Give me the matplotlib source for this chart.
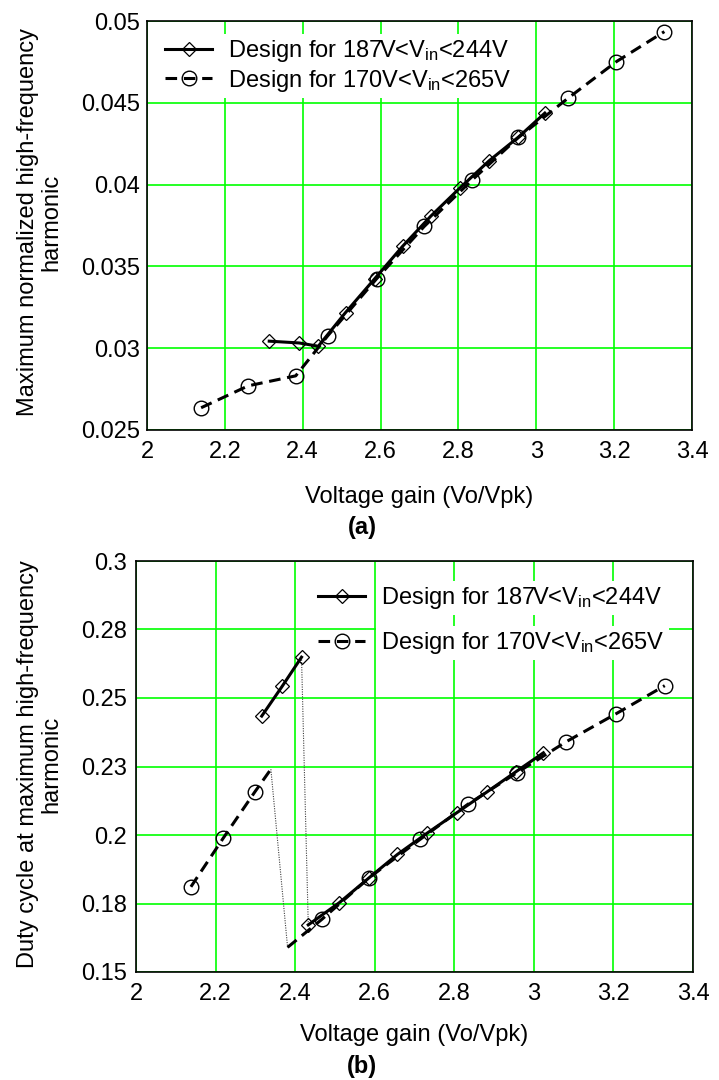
import numpy as np
import matplotlib
matplotlib.use('Agg')
import matplotlib.pyplot as plt

plt.rcParams['font.family'] = 'Liberation Sans'
plt.rcParams['mathtext.fontset'] = 'custom'
plt.rcParams['mathtext.rm'] = 'Liberation Sans'
plt.rcParams['mathtext.it'] = 'Liberation Sans:italic'

# Datos (a): armonico maximo normalizado
xa_d = [2.314, 2.391, 2.440, 2.510, 2.585, 2.657, 2.729, 2.804, 2.879, 2.954, 3.022]
ya_d = [0.03043, 0.03032, 0.03012, 0.03218, 0.03425, 0.03624, 0.03807, 0.03980, 0.04146, 0.04290, 0.04437]
xa_c = [2.139, 2.260, 2.382, 2.464, 2.590, 2.712, 2.836, 2.954, 3.082, 3.206, 3.329]
ya_c = [0.02636, 0.02770, 0.02831, 0.03075, 0.03425, 0.03744, 0.04030, 0.04288, 0.04529, 0.04752, 0.04935]

# Datos (b): ciclo de trabajo en el armonico maximo
xb_d = [2.316, 2.368, 2.416, 2.433, 2.511, 2.586, 2.657, 2.731, 2.806, 2.881, 2.955, 3.024]
yb_d = [0.2434, 0.2544, 0.2649, 0.1672, 0.1753, 0.1844, 0.1929, 0.2006, 0.2081, 0.2156, 0.2231, 0.2300]
xb_c = [2.138, 2.219, 2.299, 2.339, 2.381, 2.467, 2.586, 2.714, 2.834, 2.957, 3.082, 3.206, 3.329]
yb_c = [0.1811, 0.1988, 0.2158, 0.2240, 0.1590, 0.1692, 0.1844, 0.1984, 0.2112, 0.2227, 0.2341, 0.2442, 0.2545]
jump_b_d = 2            # salto despues de este indice
jump_b_c = 3
nomark_b_c = [3, 4]     # puntos sin marcador

label_d = r'Design for 187V<V$_{\mathrm{in}}$<244V'
label_c = r'Design for 170V<V$_{\mathrm{in}}$<265V'

xticks = [2, 2.2, 2.4, 2.6, 2.8, 3, 3.2, 3.4]
xlabels = ['2', '2.2', '2.4', '2.6', '2.8', '3', '3.2', '3.4']
yticks_a = [0.025, 0.03, 0.035, 0.04, 0.045, 0.05]
ylabels_a = ['0.025', '0.03', '0.035', '0.04', '0.045', '0.05']
yticks_b = [0.15, 0.175, 0.2, 0.225, 0.25, 0.275, 0.3]
ylabels_b = ['0.15', '0.18', '0.2', '0.23', '0.25', '0.28', '0.3']

FS = 17
LW = 2.2
dashes = (3.8, 2.2)
st_d = dict(color='black', lw=LW, marker='D', ms=7, mfc='none', mec='black', mew=0.9)
st_c = dict(color='black', lw=LW, dashes=dashes, marker='o', ms=10.5, mfc='none', mec='black', mew=1.0)
st_dot = dict(color='0.25', lw=0.8, linestyle=(0, (1, 1.2)))


def serie(ax, x, y, style, label, jump=None, nomark=()):
    x = np.array(x)
    y = np.array(y)
    if jump is None:
        tramos = [np.arange(len(x))]
    else:
        tramos = [np.arange(0, jump + 1), np.arange(jump + 1, len(x))]
        ax.plot(x[jump:jump + 2], y[jump:jump + 2], **st_dot)
    for k, idx in enumerate(tramos):
        marks = [i for i, j in enumerate(idx) if j not in nomark]
        ax.plot(x[idx], y[idx], markevery=marks, label=label if k == 0 else None, **style)


def ejes(ax, yticks, ylabels, ylim, pad_y):
    ax.set_xlim(2, 3.4)
    ax.set_ylim(*ylim)
    ax.set_xticks(xticks)
    ax.set_xticklabels(xlabels)
    ax.set_yticks(yticks)
    ax.set_yticklabels(ylabels)
    ax.tick_params(length=0, labelsize=FS, colors='black')
    ax.tick_params(axis='x', pad=8)
    ax.tick_params(axis='y', pad=pad_y)
    ax.grid(True, color='#00ff00', lw=1.2)
    ax.set_axisbelow(True)
    for s in ax.spines.values():
        s.set_linewidth(1.2)


def leyenda(ax, anchor, spacing):
    leg = ax.legend(loc='center left', bbox_to_anchor=anchor, frameon=False, fontsize=FS,
                    handlelength=2.0, handletextpad=0.65, labelspacing=spacing,
                    borderpad=0, borderaxespad=0)
    for t in leg.get_texts():
        t.set_bbox(dict(facecolor='white', edgecolor='none', pad=3))


fig = plt.figure(figsize=(7.19, 10.8), dpi=100)

# (a)
ax1 = fig.add_axes([147 / 719, 1 - 430 / 1080, 545 / 719, 409 / 1080])
serie(ax1, xa_d, ya_d, st_d, label_d)
serie(ax1, xa_c, ya_c, st_c, label_c)
ejes(ax1, yticks_a, ylabels_a, (0.025, 0.05), 5)
leyenda(ax1, (0.033, 0.89), 0.15)

# (b)
ax2 = fig.add_axes([136 / 719, 1 - 972 / 1080, 557 / 719, 411 / 1080])
serie(ax2, xb_d, yb_d, st_d, label_d, jump=jump_b_d)
serie(ax2, xb_c, yb_c, st_c, label_c, jump=jump_b_c, nomark=nomark_b_c)
ejes(ax2, yticks_b, ylabels_b, (0.15, 0.3), 6.5)
leyenda(ax2, (0.327, 0.855), 0.8)

# Etiquetas
fig.text(40 / 719, 1 - 222 / 1080, 'Maximum normalized high-frequency\nharmonic',
         rotation=90, ha='center', va='center', ma='center', fontsize=FS, linespacing=1.1)
fig.text(40 / 719, 1 - 764 / 1080, 'Duty cycle at maximum high-frequency\nharmonic',
         rotation=90, ha='center', va='center', ma='center', fontsize=FS, linespacing=1.1)
fig.text(419.5 / 719, 1 - 503 / 1080, 'Voltage gain (Vo/Vpk)', ha='center', va='baseline', fontsize=FS)
fig.text(362 / 719, 1 - 534 / 1080, '(a)', ha='center', va='baseline', fontsize=FS, fontweight='bold')
fig.text(414.5 / 719, 1 - 1041 / 1080, 'Voltage gain (Vo/Vpk)', ha='center', va='baseline', fontsize=FS)
fig.text(362 / 719, 1 - 1073 / 1080, '(b)', ha='center', va='baseline', fontsize=FS, fontweight='bold')

fig.savefig('out.png', dpi=100)
